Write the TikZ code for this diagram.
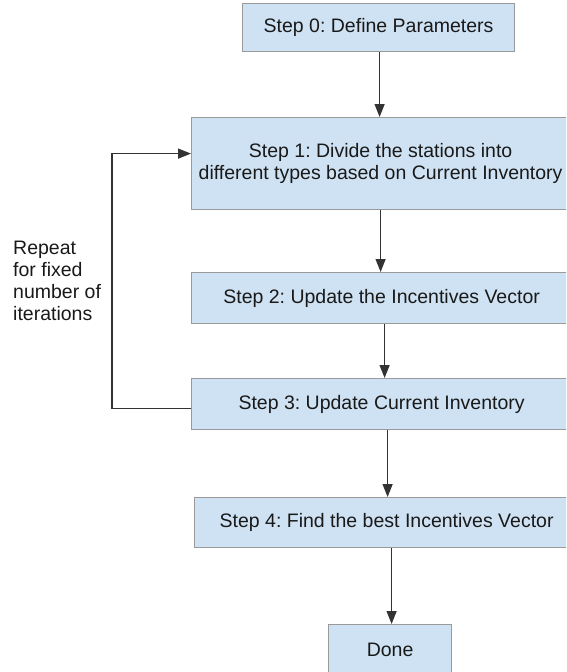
\documentclass[tikz,border=0pt]{standalone}
\usepackage{fontspec}
\setmainfont{Liberation Sans}
\usetikzlibrary{arrows.meta}
\definecolor{boxfill}{HTML}{CFE2F3}
\definecolor{boxline}{HTML}{9A9A9A}
\definecolor{connc}{HTML}{333333}
\frenchspacing
\begin{document}
\begin{tikzpicture}[x=1pt,y=-1pt,
  stepbox/.style={draw=boxline, line width=1.2pt, fill=boxfill, anchor=north west,
    inner sep=0pt, align=center, font=\fontsize{19.5}{21.5}\selectfont, text=black!90},
  conn/.style={draw=connc, line width=1.2pt, -{Triangle[length=13pt,width=10pt]}},
  lbl/.style={anchor=west, inner sep=0pt, align=left, font=\fontsize{19.5}{21.8}\selectfont, text=black!90}]
\useasboundingbox (0,0) rectangle (566,672);
\clip (0,0) rectangle (566,672);
\node[stepbox, minimum width=272pt, minimum height=48pt] (s0) at (242,3) {Step 0: Define Parameters};
\node[stepbox, minimum width=378pt, minimum height=92pt] (s1) at (191,117) {Step 1: Divide the stations into\\different types based on Current Inventory};
\node[stepbox, minimum width=380pt, minimum height=51pt] (s2) at (191,272) {Step 2: Update the Incentives Vector};
\node[stepbox, minimum width=380pt, minimum height=51pt] (s3) at (191,378) {Step 3: Update Current Inventory};
\node[stepbox, minimum width=384pt, minimum height=50pt] (s4) at (194,497) {Step 4: Find the best Incentives Vector};
\node[stepbox, minimum width=123pt, minimum height=50pt] (done) at (328,624) {Done};
\node[lbl] (rep) at (13,281) {Repeat\\for fixed\\number of\\iterations};
\coordinate (lp) at (112,300);
\draw[conn] ([xshift=1pt]s0.south) -- ([xshift=1pt]s0.south |- s1.north);
\draw[conn] (s1.south) -- (s1.south |- s2.north);
\draw[conn] ([xshift=3pt]s2.south) -- ([xshift=3pt]s2.south |- s3.north);
\draw[conn] ([xshift=6pt]s3.south) -- ([xshift=6pt]s3.south |- s4.north);
\draw[conn] ([xshift=5pt]s4.south) -- ([xshift=5pt]s4.south |- done.north);
\draw[conn] ([yshift=-4.5pt]s3.west) -| (lp) |- ([yshift=10pt]s1.west);
\end{tikzpicture}
\end{document}
